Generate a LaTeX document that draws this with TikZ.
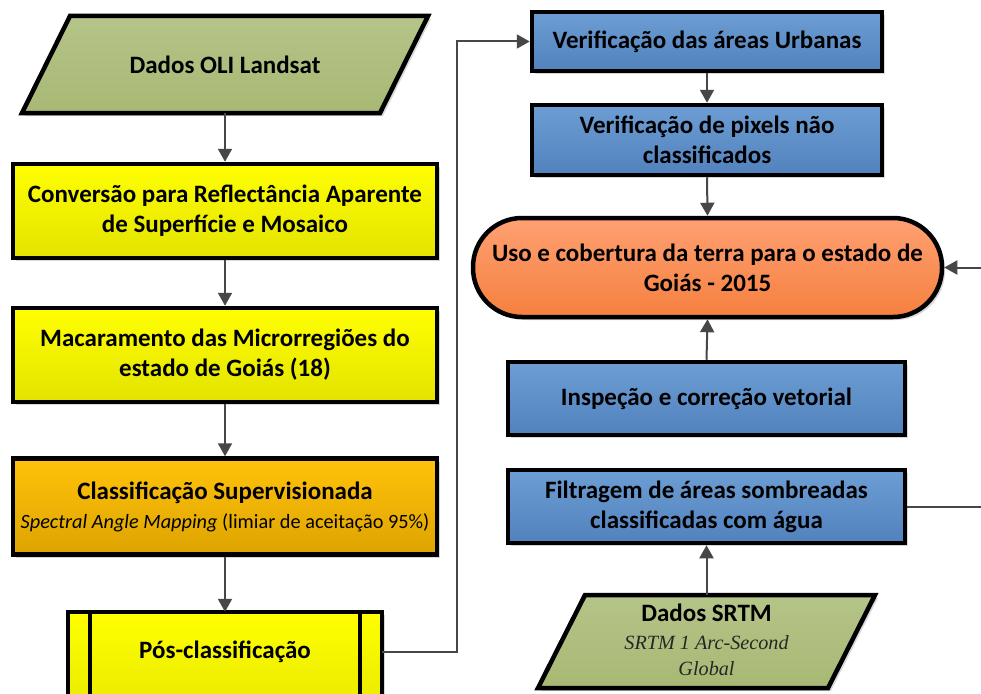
\documentclass[tikz,border=0pt]{standalone}
\usepackage{fontspec}
\setmainfont{Carlito}
\newfontfamily\serifit{Liberation Serif}
\usetikzlibrary{shadows,arrows.meta}
\definecolor{gtop}{HTML}{B5C488}
\definecolor{gbot}{HTML}{A8B874}
\definecolor{ytop}{HTML}{FFFF00}
\definecolor{ybot}{HTML}{E3E300}
\definecolor{otop}{HTML}{FFC20A}
\definecolor{obot}{HTML}{DDA400}
\definecolor{btop}{HTML}{6C9DD3}
\definecolor{bbot}{HTML}{5282BD}
\definecolor{rtop}{HTML}{FFA072}
\definecolor{rbot}{HTML}{F5803F}
\definecolor{lnc}{HTML}{474747}
\begin{document}
\begin{tikzpicture}[x=1pt,y=-1pt,
  conn/.style={draw=lnc, line width=2pt},
  arr/.style={conn,-{Triangle[length=13pt,width=14pt]}},
  shad/.style={drop shadow={shadow xshift=3pt,shadow yshift=-3pt,fill=black!30,opacity=0.5}},
  boxbase/.style={draw=black, line width=4.5pt, align=center, inner sep=0pt, shad,
    font=\bfseries\fontsize{25}{30}\selectfont},
  yellowbox/.style={boxbase, top color=ytop, bottom color=ybot},
  goldbox/.style={boxbase, top color=otop, bottom color=obot},
  bluebox/.style={boxbase, top color=btop, bottom color=bbot},
  termbox/.style={boxbase, top color=rtop, bottom color=rbot, rounded corners=49pt},
  greenshape/.style={draw=black, line width=4.5pt, top color=gtop, bottom color=gbot, shad},
  label/.style={align=center, inner sep=0pt, font=\bfseries\fontsize{25}{30}\selectfont}
]
\useasboundingbox (0,0) rectangle (981,693);
\clip (0,0) rectangle (981,693);
\fill[white] (0,0) rectangle (981,693);

% left column
\path[greenshape] (70,16) -- (428,16) -- (380,113) -- (22,113) -- cycle;
\node[label, minimum width=300, minimum height=97] (oli) at (225,64.5) {Dados OLI Landsat};

\node[yellowbox, minimum width=424, minimum height=94] (conv) at (225,211)
  {Conversão para Reflectância Aparente\\de Superfície e Mosaico};
\node[yellowbox, minimum width=424, minimum height=94] (mac) at (225,355)
  {Macaramento das Microrregiões do\\estado de Goiás (18)};
\node[goldbox, minimum width=424, minimum height=96, font=\fontsize{20.3}{29}\selectfont] (cls) at (225,506.5)
  {{\bfseries\fontsize{25}{29}\selectfont Classificação Supervisionada}\\\textit{Spectral Angle Mapping} (limiar de aceitação 95\%)};

\path[draw=black, line width=4.5pt, top color=ytop, bottom color=ybot, shad] (68,612) rectangle (382,740);
\draw[line width=4.5pt] (90,612) -- (90,740) (360,612) -- (360,740);
\node[label, minimum width=314, minimum height=80] (pos) at (225,652) {Pós-classificação};

% right column
\node[bluebox, minimum width=350, minimum height=59] (urb) at (707,41.5) {Verificação das áreas Urbanas};
\node[bluebox, minimum width=350, minimum height=70] (pix) at (707,140) {Verificação de pixels não\\classificados};
\node[termbox, minimum width=469, minimum height=99] (uso) at (707.5,267.5) {Uso e cobertura da terra para o estado de\\Goiás - 2015};
\node[bluebox, minimum width=397, minimum height=73] (insp) at (706.5,398.5) {Inspeção e correção vetorial};
\node[bluebox, minimum width=397, minimum height=73] (filt) at (706.5,506.5) {Filtragem de áreas sombreadas\\classificadas com água};

\path[greenshape] (585,595) -- (875,595) -- (828,688) -- (538,688) -- cycle;
\node[align=center, inner sep=0pt, minimum width=240, minimum height=93] (srtm) at (706.5,641.5) {};
\node[label] at (706.5,613) {Dados SRTM};
\node[align=center, inner sep=0pt, font=\serifit\itshape\fontsize{20.2}{26}\selectfont, text=black!85] at (706.5,656) {SRTM 1 Arc-Second\\Global};

\coordinate (rf) at (990,506.5);
\coordinate (ru) at (990,267.5);

% connectors
\draw[arr] (oli.south) -- (conv.north);
\draw[arr] (conv.south) -- (mac.north);
\draw[arr] (mac.south) -- (cls.north);
\draw[arr] (cls.south) -- (pos.north);
\draw[arr] (pos.east) -- ++(75,0) |- (urb.west);
\draw[arr] (urb.south) -- (pix.north);
\draw[arr] (pix.south) -- (uso.north);
\draw[arr] (insp.north) -- (uso.south);
\draw[arr] (srtm.north) -- (filt.south);
\draw[conn] (filt.east) -- (rf);
\draw[arr] (ru) -- (uso.east);
\end{tikzpicture}
\end{document}
